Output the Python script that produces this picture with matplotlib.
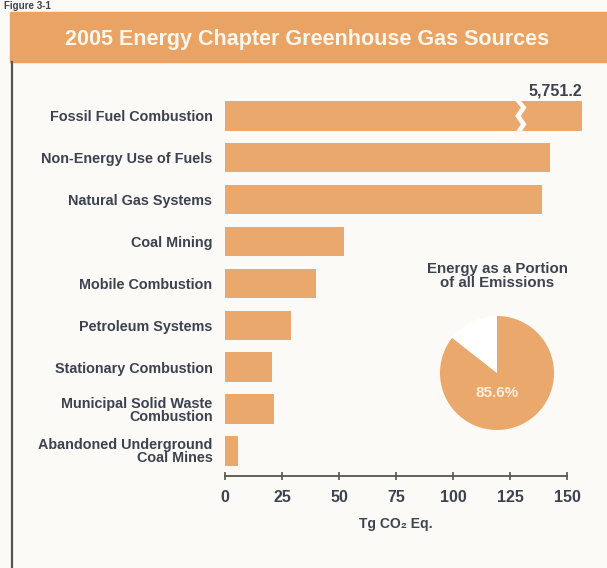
import numpy as np
import matplotlib
matplotlib.use("Agg")
import matplotlib.pyplot as plt
from matplotlib.patches import Rectangle, Polygon

plt.rcParams["font.family"] = ["Liberation Sans", "DejaVu Sans"]
plt.rcParams["font.weight"] = "bold"

# data
categories = [
    "Fossil Fuel Combustion",
    "Non-Energy Use of Fuels",
    "Natural Gas Systems",
    "Coal Mining",
    "Mobile Combustion",
    "Petroleum Systems",
    "Stationary Combustion",
    "Municipal Solid Waste\nCombustion",
    "Abandoned Underground\nCoal Mines",
]
values = [5751.2, 142.4, 139.0, 52.4, 40.0, 28.8, 20.7, 21.3, 5.6]
xticks = [0, 25, 50, 75, 100, 125, 150]
pie_share = [85.6, 14.4]

ORANGE = "#eaa86c"
HEADER = "#e9a465"
TEXT = "#3c4250"
BG = "#fbfaf6"

W, H = 607, 568
fig = plt.figure(figsize=(W / 100, H / 100), dpi=100, facecolor=BG)


def fx(px):
    return px / W


def fy(py):
    return 1 - py / H


# header band and frame
fig.patches.append(Rectangle((fx(10), fy(62)), fx(W - 10), (62 - 12) / H,
                             transform=fig.transFigure, color=HEADER, zorder=0))
fig.text(fx(307), fy(39), "2005 Energy Chapter Greenhouse Gas Sources",
         ha="center", va="center", color="#fff6ec", fontsize=15.5)
fig.add_artist(plt.Line2D([fx(12), fx(12)], [fy(62), 0], transform=fig.transFigure,
                          color="#555555", lw=1.6))
fig.text(fx(4), fy(1), "Figure 3-1", ha="left", va="top", color=TEXT, fontsize=7)

# bar chart
xmax = 150
ax = fig.add_axes([fx(225), fy(476), fx(567) - fx(225), (476 - 95) / H])
ax.set_facecolor("none")
y = np.arange(len(categories))
shown = [min(v, xmax * 1.044) for v in values]
ax.barh(y, shown, height=0.7, color=ORANGE, clip_on=False)
ax.set_xlim(0, xmax)
ax.set_ylim(len(categories) - 1 + 0.6, -0.5)

# broken first bar
bx = xmax * 0.845
zz = [(bx, -0.4), (bx + 3.0, -0.2), (bx + 0.5, 0.0), (bx + 3.0, 0.2), (bx + 0.5, 0.4),
      (bx + 3.0, 0.4), (bx + 5.5, 0.2), (bx + 3.0, 0.0), (bx + 5.5, -0.2), (bx + 2.5, -0.4)]
ax.add_patch(Polygon(zz, closed=True, facecolor=BG, edgecolor="none", zorder=3))
ax.text(shown[0], -0.42, f"{values[0]:,.1f}", ha="right", va="bottom",
        color=TEXT, fontsize=11.5, clip_on=False)

ax.set_yticks(y)
ax.set_yticklabels(categories, fontsize=10.4, color=TEXT, linespacing=0.92)
ax.tick_params(axis="y", length=0, pad=9)
ax.set_xticks(xticks)
ax.set_xticklabels([str(t) for t in xticks], fontsize=11.5, color=TEXT)
ax.tick_params(axis="x", direction="inout", length=6, width=1.2, color="#555555", pad=7)
for s in ["top", "right", "left"]:
    ax.spines[s].set_visible(False)
ax.spines["bottom"].set_color("#555555")
ax.spines["bottom"].set_linewidth(1.3)
ax.set_xlabel("Tg CO₂ Eq.", fontsize=10, fontweight="bold", color=TEXT, labelpad=9)

# pie inset
cx, cy, r = 497, 373, 57
pax = fig.add_axes([fx(cx - r), fy(cy + r), 2 * r / W, 2 * r / H])
pax.pie(pie_share, colors=[ORANGE, "white"], startangle=90, counterclock=False,
        radius=1.0, wedgeprops=dict(linewidth=0))
pax.set_aspect("equal")
pax.set_xlim(-1, 1)
pax.set_ylim(-1, 1)
pax.text(0, -0.35, f"{pie_share[0]}%", ha="center", va="center",
         color="#fdeedf", fontsize=11)
fig.text(fx(cx), fy(276), "Energy as a Portion\nof all Emissions", ha="center",
         va="center", color=TEXT, fontsize=10.8, linespacing=0.95)

fig.savefig("out.png", dpi=100, facecolor=BG)
